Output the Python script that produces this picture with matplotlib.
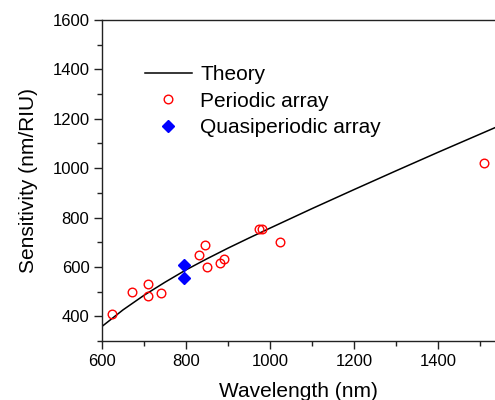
import matplotlib
matplotlib.use("Agg")
import matplotlib.pyplot as plt
from matplotlib.ticker import MultipleLocator

plt.rcParams['font.family'] = ['Liberation Sans', 'DejaVu Sans']

# Theory curve
theory_x = [600, 650, 700, 750, 800, 850, 900, 950, 1000, 1100, 1200, 1300, 1400, 1536]
theory_y = [359, 426, 485, 538, 588, 633, 676, 717, 757, 836, 913, 989, 1064, 1164]

# Periodic array
per_x = [625, 671, 710, 710, 740, 831, 845, 850, 880, 890, 974, 982, 1023, 1509]
per_y = [410, 500, 530, 481, 495, 650, 689, 599, 615, 631, 753, 753, 700, 1022]

# Quasiperiodic array
quasi_x = [795, 795]
quasi_y = [607, 557]

fig = plt.figure(figsize=(4.95, 4.0), dpi=100)
ax = fig.add_axes([102/495, 1-341/400, 1-102/495, (341-20)/400])

ax.plot(theory_x, theory_y, color='black', lw=1.1, label='Theory')
ax.plot(per_x, per_y, ls='none', marker='o', ms=6.2, mfc='none', mec='red', mew=1.0, label='Periodic array')
ax.plot(quasi_x, quasi_y, ls='none', marker='D', ms=6.0, mfc='blue', mec='blue', label='Quasiperiodic array')

ax.set_xlim(600, 1536)
ax.set_ylim(300, 1600)
ax.xaxis.set_major_locator(MultipleLocator(200))
ax.xaxis.set_minor_locator(MultipleLocator(100))
ax.yaxis.set_major_locator(MultipleLocator(200))
ax.yaxis.set_minor_locator(MultipleLocator(100))
ax.set_yticks([400, 600, 800, 1000, 1200, 1400, 1600])

ax.spines['right'].set_visible(False)
for s in ['left', 'bottom', 'top']:
    ax.spines[s].set_linewidth(1.0)
    ax.spines[s].set_color('#222222')
ax.tick_params(which='major', direction='out', length=6, width=1.0, labelsize=12, pad=3, color='#222222')
ax.tick_params(which='minor', direction='out', length=3.5, width=1.0, color='#222222')
ax.tick_params(top=False, right=False, which='both')

ax.set_xlabel('Wavelength (nm)', fontsize=15, labelpad=10)
ax.set_ylabel('Sensitivity (nm/RIU)', fontsize=15, labelpad=10)

leg = ax.legend(loc='upper left', bbox_to_anchor=(145/495, 1-65/400), bbox_transform=fig.transFigure,
                frameon=False, fontsize=15, handlelength=2.25, handletextpad=0.4,
                labelspacing=0.37, borderpad=0, borderaxespad=0)

fig.savefig('out.png', dpi=100)
